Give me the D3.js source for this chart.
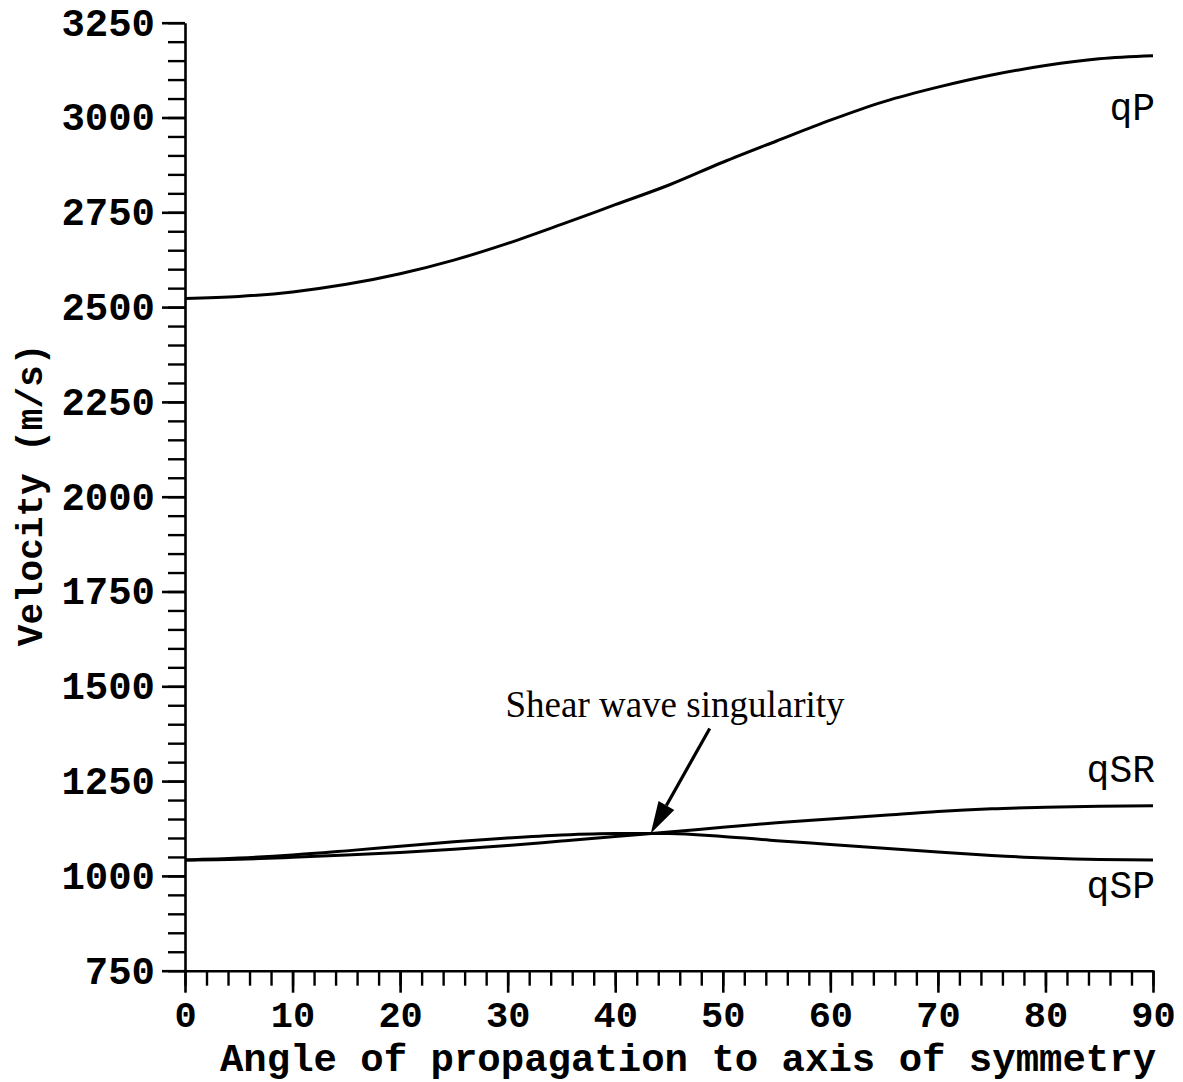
<!DOCTYPE html>
<html>
<head>
<meta charset="utf-8">
<script src="https://cdn.jsdelivr.net/npm/d3@7"></script>
<style>
  html, body { margin: 0; padding: 0; background: #fff; }
  svg { display: block; }
  .tick text { font-family: "Liberation Mono", "DejaVu Sans Mono", monospace; font-weight: bold; }
</style>
</head>
<body>
<svg id="chart" width="1183" height="1082"></svg>
<script>
// Phase velocity versus propagation angle for a transversely isotropic medium
const angles = [0, 5, 10, 15, 20, 25, 30, 35, 40, 45, 50, 55, 60, 65, 70, 75, 80, 85, 90];
const qP  = [2523, 2528, 2540, 2560, 2588, 2624, 2668, 2718, 2770, 2822, 2882, 2938, 2993, 3042, 3080, 3112, 3137, 3155, 3163];
const qSR = [1042, 1044, 1049, 1055, 1062, 1070, 1080, 1092, 1104, 1116, 1128, 1140, 1150, 1160, 1170, 1177, 1181, 1184, 1185];
const qSP = [1042, 1047, 1055, 1066, 1078, 1090, 1100, 1108, 1112, 1112, 1104, 1093, 1083, 1073, 1063, 1054, 1047, 1043, 1042];
const seriesNames = ["qP", "qSR", "qSP"];
const xTicks = [0, 10, 20, 30, 40, 50, 60, 70, 80, 90];
const yTicks = [750, 1000, 1250, 1500, 1750, 2000, 2250, 2500, 2750, 3000, 3250];
const singularity = { angle: 43.3, velocity: 1112, label: "Shear wave singularity" };

const svg = d3.select("#chart");
const x = d3.scaleLinear().domain([0, 90]).range([185, 1153]);
const y = d3.scaleLinear().domain([750, 3250]).range([970.7, 22.7]);

const mono = '"Liberation Mono", "DejaVu Sans Mono", monospace';

// minor ticks
svg.append("g")
  .attr("transform", `translate(${x(0)},0)`)
  .call(d3.axisLeft(y).tickValues(d3.range(750, 3251, 50)).tickSize(17).tickFormat(""))
  .call(g => g.selectAll("line").attr("stroke-width", 2.4))
  .call(g => g.select(".domain").remove());
svg.append("g")
  .attr("transform", `translate(0,${y(750)})`)
  .call(d3.axisBottom(x).tickValues(d3.range(0, 91, 2)).tickSize(15).tickFormat(""))
  .call(g => g.selectAll("line").attr("stroke-width", 2.4))
  .call(g => g.select(".domain").remove());

// major ticks with labels
const yAxis = svg.append("g")
  .attr("transform", `translate(${x(0)},0)`)
  .call(d3.axisLeft(y).tickValues(yTicks).tickSize(23).tickPadding(7).tickSizeOuter(0).tickFormat(d3.format("d")));
yAxis.select(".domain").attr("stroke-width", 2.6);
yAxis.selectAll("line").attr("stroke-width", 2.6);
yAxis.selectAll("text").attr("font-size", 39).attr("fill", "#000");

const xAxis = svg.append("g")
  .attr("transform", `translate(0,${y(750)})`)
  .call(d3.axisBottom(x).tickValues(xTicks).tickSize(22).tickPadding(8).tickSizeOuter(0).tickFormat(d3.format("d")));
xAxis.select(".domain").attr("stroke-width", 2.6);
xAxis.selectAll("line").attr("stroke-width", 2.6);
xAxis.selectAll("text").attr("font-size", 37).attr("fill", "#000");

// axis titles
svg.append("text")
  .attr("x", 688).attr("y", 1071)
  .attr("text-anchor", "middle")
  .attr("font-family", mono).attr("font-weight", "bold").attr("font-size", 39)
  .text("Angle of propagation to axis of symmetry");
svg.append("text")
  .attr("transform", "translate(42,495) rotate(-90)")
  .attr("text-anchor", "middle")
  .attr("font-family", mono).attr("font-weight", "bold").attr("font-size", 36)
  .text("Velocity (m/s)");

// velocity curves
const line = d3.line()
  .x((d, i) => x(angles[i]))
  .y(d => y(d))
  .curve(d3.curveMonotoneX);
[qP, qSR, qSP].forEach(s => {
  svg.append("path")
    .datum(s)
    .attr("fill", "none")
    .attr("stroke", "#000")
    .attr("stroke-width", 3)
    .attr("d", line);
});

// curve labels
const labelPos = { qP: 120, qSR: 782, qSP: 898 };
seriesNames.forEach(n => {
  svg.append("text")
    .attr("x", 1155).attr("y", labelPos[n])
    .attr("text-anchor", "end")
    .attr("font-family", mono).attr("font-size", 38)
    .text(n);
});

// singularity annotation
const tipX = x(singularity.angle), tipY = y(singularity.velocity);
const startX = tipX + 59, startY = tipY - 105;
const ang = Math.atan2(tipY - startY, tipX - startX);
const headLen = 32, headHalf = 9;
const bx = tipX - headLen * Math.cos(ang), by = tipY - headLen * Math.sin(ang);
svg.append("line")
  .attr("x1", startX).attr("y1", startY).attr("x2", bx).attr("y2", by)
  .attr("stroke", "#000").attr("stroke-width", 3.2);
svg.append("path")
  .attr("d", `M${tipX},${tipY}L${bx + headHalf * Math.sin(ang)},${by - headHalf * Math.cos(ang)}L${bx - headHalf * Math.sin(ang)},${by + headHalf * Math.cos(ang)}Z`)
  .attr("fill", "#000");
svg.append("text")
  .attr("x", 675).attr("y", 717)
  .attr("text-anchor", "middle")
  .attr("font-family", '"Liberation Serif", "Times New Roman", serif').attr("font-size", 37)
  .text(singularity.label);
</script>
</body>
</html>
